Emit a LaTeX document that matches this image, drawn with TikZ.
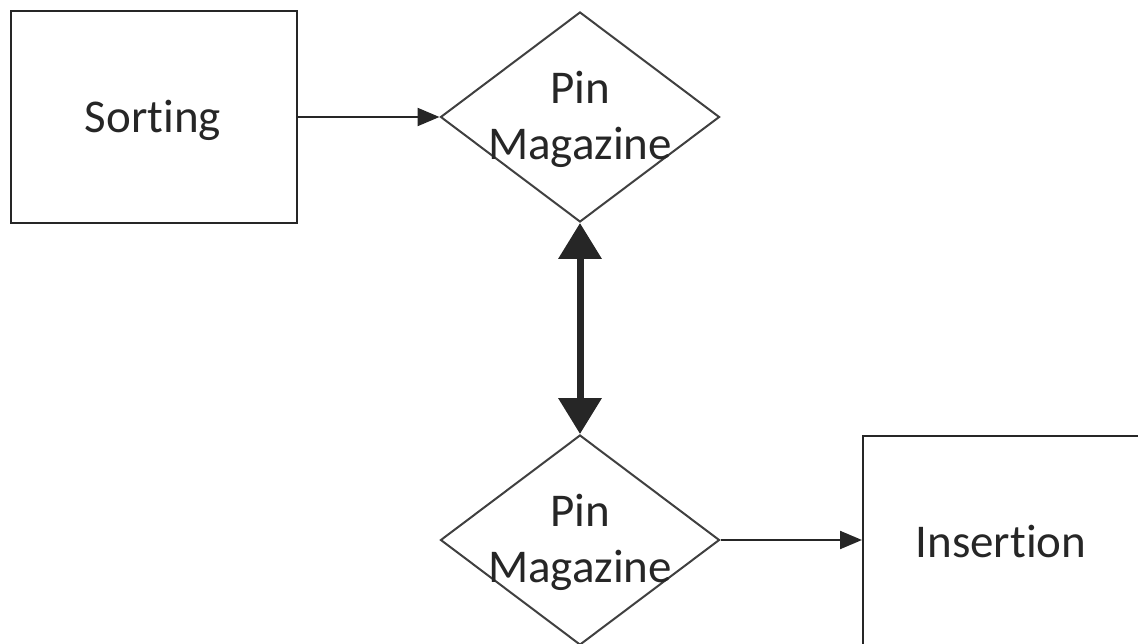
\documentclass[tikz,border=0pt]{standalone}
\usepackage{fontspec}
\setmainfont{Carlito}[Ligatures={NoCommon}]
\usetikzlibrary{shapes.geometric,arrows.meta}
\begin{document}
\begin{tikzpicture}[x=1pt,y=-1pt,
  box/.style={draw=black!85,line width=2.4pt,rectangle,inner sep=0pt},
  dia/.style={draw=black!75,line width=2pt,diamond,inner sep=0pt,minimum width=279pt,minimum height=210pt},
  lbl/.style={font=\fontsize{47}{56}\selectfont,text=black!85,align=center,inner sep=0pt},
  flow/.style={draw=black!85,line width=2.2pt,-{Triangle[length=22pt,width=18pt]}},
  bidir/.style={draw=black!85,line width=7pt,{Triangle[length=36pt,width=42pt]}-{Triangle[length=36pt,width=42pt]}}]
\useasboundingbox (0,0) rectangle (1138,644);
\clip (0,0) rectangle (1138,644);
\node[box,minimum width=286pt,minimum height=212pt] (sort) at (154,117) {};
\node[lbl] (sorttxt) at (153,120) {Sorting};
\node[dia] (pm1) at (580,117) {};
\node[lbl] (pm1txt) at (580,119) {Pin\\Magazine};
\node[dia] (pm2) at (580,540) {};
\node[lbl] (pm2txt) at (580,542) {Pin\\Magazine};
\node[box,minimum width=330pt,minimum height=300pt,anchor=north west] (ins) at (862,435) {};
\coordinate (insl) at (862,540);
\node[lbl] (instxt) at (1001,542) {Insertion};
\draw[flow] (sort.east) -- (pm1.west);
\draw[bidir] (pm1.south) -- (pm2.north);
\draw[flow] (pm2.east) -- (insl);
\end{tikzpicture}
\end{document}
